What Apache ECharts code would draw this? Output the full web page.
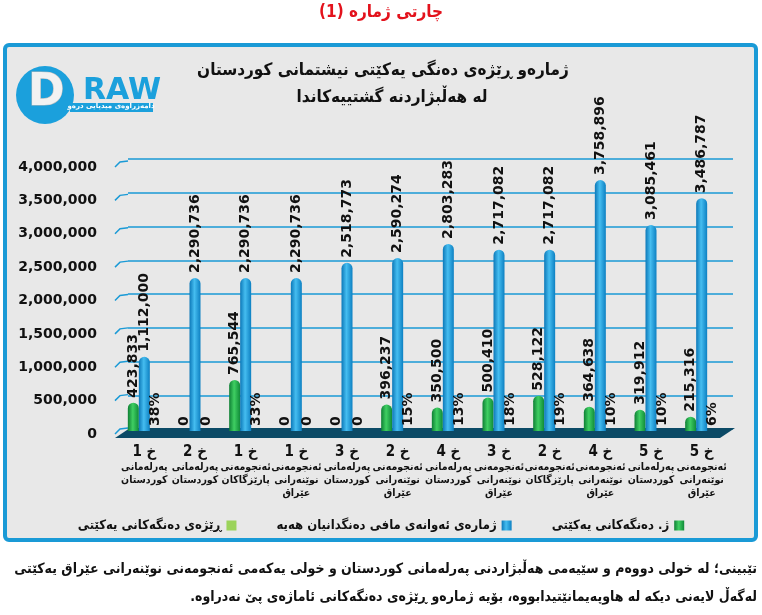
<!DOCTYPE html>
<html><head><meta charset="utf-8">
<script src="https://cdn.jsdelivr.net/npm/echarts@6/dist/echarts.min.js"></script>
<style>html,body{margin:0;padding:0;background:#fff;} #c{width:762px;height:615px;}</style>
</head><body><div id="c" dir="rtl"></div>
<script>
const categories = [
  'خ 1\nپەرلەمانی\nکوردستان',
  'خ 2\nپەرلەمانی\nکوردستان',
  'خ 1\nئەنجومەنی\nپارێزگاکان',
  'خ 1\nئەنجومەنی\nنوێنەرانی\nعێراق',
  'خ 3\nپەرلەمانی\nکوردستان',
  'خ 2\nئەنجومەنی\nنوێنەرانی\nعێراق',
  'خ 4\nپەرلەمانی\nکوردستان',
  'خ 3\nئەنجومەنی\nنوێنەرانی\nعێراق',
  'خ 2\nئەنجومەنی\nپارێزگاکان',
  'خ 4\nئەنجومەنی\nنوێنەرانی\nعێراق',
  'خ 5\nپەرلەمانی\nکوردستان',
  'خ 5\nئەنجومەنی\nنوێنەرانی\nعێراق'
];
const unionVotes = [423833, 0, 765544, 0, 0, 396237, 350500, 500410, 528122, 364638, 319912, 215316];
const eligibleVoters = [1112000, 2290736, 2290736, 2290736, 2518773, 2590274, 2803283, 2717082, 2717082, 3758896, 3085461, 3486787];
const unionShare = [38, 0, 33, 0, 0, 15, 13, 18, 19, 10, 10, 6];
const yTicks = [0, 500000, 1000000, 1500000, 2000000, 2500000, 3000000, 3500000, 4000000];
const nameShare = 'ڕێژەی دەنگەکانی یەکێتی';
const nameEligible = 'ژمارەی ئەوانەی مافی دەنگدانیان هەیە';
const nameVotes = 'ژ. دەنگەکانی یەکێتی';
const pageTitle = 'چارتی ژمارە (1)';
const chartTitle1 = 'ژمارەو ڕێژەی دەنگی یەکێتی نیشتمانی کوردستان';
const chartTitle2 = 'لە هەڵبژاردنە گشتییەکاندا';
const note1 = 'تێبینی؛ لە خولی دووەم و سێیەمی هەڵبژاردنی پەرلەمانی کوردستان و خولی یەکەمی ئەنجومەنی نوێنەرانی عێراق یەکێتی';
const note2 = 'لەگەڵ لایەنی دیکە لە هاوپەیمانێتیدابووە، بۆیە ژمارەو ڕێژەی دەنگەکانی ئاماژەی پێ نەدراوە.';

const FONT = 'DejaVu Sans';
const AFONT = '"DejaVu Sans Condensed", "DejaVu Sans"';
const fmt = v => Number(v).toLocaleString('en-US');
const blueC = '#1a9ad6';

const greenGrad = new echarts.graphic.LinearGradient(0,0,1,0,[
  {offset:0,color:'#0e7f34'},{offset:0.45,color:'#3fcf62'},{offset:1,color:'#0f8a38'}]);
const blueGrad = new echarts.graphic.LinearGradient(0,0,1,0,[
  {offset:0,color:'#0c78b8'},{offset:0.45,color:'#45bdf0'},{offset:1,color:'#0d80c2'}]);

const numLabel = (dist) => ({
  show:true, position:'top', rotate:90, align:'left', verticalAlign:'middle', distance:dist,
  fontFamily:FONT, fontWeight:'bold', fontSize:14, color:'#111'
});

const chart = echarts.init(document.getElementById('c'), null, {renderer:'canvas'});
chart.setOption({
  backgroundColor:'#ffffff',
  animation:false,
  legend:{
    data:[nameShare, nameEligible, nameVotes],
    top:514, left:'center', align:'right', itemGap:40, itemWidth:10, itemHeight:10, icon:'rect',
    textStyle:{fontFamily:AFONT, fontWeight:'bold', fontSize:13, color:'#111'}
  },
  grid:[
    {left:128, right:29, top:159, bottom:186},
    {left:115, right:634, top:167, bottom:181},
    {left:119, right:35, top:164, bottom:184}
  ],
  xAxis:[
    {gridIndex:0, type:'value', min:0, max:1, show:false},
    {gridIndex:1, type:'value', min:0, max:1, show:false},
    {gridIndex:2, type:'category', data:categories,
     axisLine:{show:false}, axisTick:{show:false},
     axisLabel:{margin:12, interval:0, fontFamily:AFONT, color:'#111',
       formatter:v=>{const p=v.split('\n');return '{a|'+p[0]+'}\n'+p.slice(1).map(s=>'{b|'+s+'}').join('\n');},
       rich:{a:{fontFamily:AFONT,fontWeight:'bold',fontSize:15,lineHeight:18,color:'#111'},
             b:{fontFamily:AFONT,fontWeight:'bold',fontSize:10.5,lineHeight:13,color:'#111'}}}}
  ],
  yAxis:[
    {gridIndex:0, type:'value', min:0, max:4000000, interval:500000,
     axisLabel:{show:false}, axisLine:{show:false}, axisTick:{show:false},
     splitLine:{show:true, lineStyle:{color:blueC, width:1.5}}},
    {gridIndex:1, type:'value', min:0, max:4000000, interval:500000,
     axisLine:{show:false}, axisTick:{show:false}, splitLine:{show:false},
     axisLabel:{margin:18, formatter:v=>fmt(v), fontFamily:FONT, fontWeight:'bold', fontSize:14, color:'#111'}},
    {gridIndex:2, type:'value', min:0, max:4000000, interval:500000, show:false}
  ],
  graphic:[
    {type:'rect', z:-100, shape:{x:5, y:45, width:751, height:495, r:4},
     style:{fill:'#e8e8e8', stroke:blueC, lineWidth:4}},
    {type:'text', left:'center', top:4, z:10,
     style:{text:pageTitle, fill:'#e3121c', font:'bold 17px "DejaVu Sans Condensed", "DejaVu Sans"'}},
    {type:'text', x:383, y:62, z:10,
     style:{text:chartTitle1, fill:'#111', font:'bold 17px "DejaVu Sans Condensed", "DejaVu Sans"', textAlign:'center'}},
    {type:'text', x:392, y:89, z:10,
     style:{text:chartTitle2, fill:'#111', font:'bold 17px "DejaVu Sans Condensed", "DejaVu Sans"', textAlign:'center'}},
    {type:'circle', z:5, shape:{cx:45, cy:95, r:29}, style:{fill:'#1ba0dc'}},
    {type:'text', x:28, y:72, z:6, style:{text:'D', fill:'#f2f2f2', font:'bold 44px "DejaVu Sans"', stroke:'#b9b9b9', lineWidth:1}},
    {type:'text', x:83, y:76, z:6, style:{text:'RAW', fill:'#1ba0dc', font:'bold 30px "DejaVu Sans"'}},
    {type:'rect', z:5, shape:{x:70, y:103, width:83, height:9}, style:{fill:'#1ba0dc'}},
    {type:'text', x:111, y:103, z:6, style:{text:'دامەزراوەی میدیایی درەو', fill:'#fff', font:'bold 7px "DejaVu Sans"', textAlign:'center'}},
    {type:'polygon', z:1, shape:{points:[[115,438],[720,438],[735,428],[130,428]]},
     style:{fill:'#0b4a66'}},
    {type:'text', right:5, top:562, z:10,
     style:{text:note1, fill:'#111', font:'bold 14px "DejaVu Sans Condensed", "DejaVu Sans"', textAlign:'right'}},
    {type:'text', right:5, top:590, z:10,
     style:{text:note2, fill:'#111', font:'bold 14px "DejaVu Sans Condensed", "DejaVu Sans"', textAlign:'right'}}
  ],
  series:[
    {type:'custom', xAxisIndex:1, yAxisIndex:1, silent:true, data:yTicks.map(v=>[0,v]),
     renderItem:(params, api)=>{
       const p0 = api.coord([0, api.value(1)]);
       const p1 = api.coord([1, api.value(1)]);
       return {type:'polyline', shape:{points:[[p0[0],p0[1]],[p0[0]+5,p0[1]-5],[p1[0],p0[1]-6]]},
               style:{stroke:blueC, lineWidth:1.5, fill:null}};
     }},
    {name:nameVotes, type:'bar', xAxisIndex:2, yAxisIndex:2, data:unionVotes, barWidth:11, barGap:'0%', z:3,
     itemStyle:{color:greenGrad, borderRadius:[6,6,0,0]},
     label:Object.assign(numLabel(5), {formatter:p=>fmt(p.value)})},
    {name:nameEligible, type:'bar', xAxisIndex:2, yAxisIndex:2, data:eligibleVoters, barWidth:11, barGap:'0%', z:3,
     itemStyle:{color:blueGrad, borderRadius:[6,6,0,0]},
     label:Object.assign(numLabel(5), {formatter:p=>fmt(p.value)})},
    {name:nameShare, type:'bar', xAxisIndex:2, yAxisIndex:2, data:unionShare, barWidth:11, barGap:'0%', z:3,
     itemStyle:{color:'#9bd35a'},
     label:Object.assign(numLabel(5), {formatter:p=>p.value===0?'0':p.value+'%'})}
  ]
});
</script></body></html>
